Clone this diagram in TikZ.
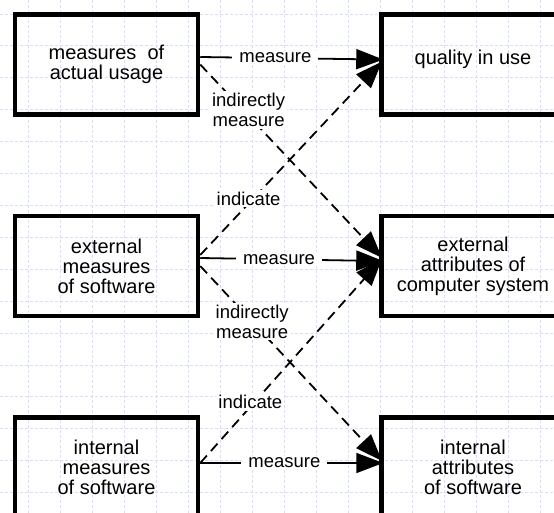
\documentclass[tikz,border=0pt]{standalone}
\usepackage{fontspec}
\setmainfont{Liberation Sans}
\usepackage{xcolor}
\usepackage{tikz}
\usetikzlibrary{arrows.meta, positioning}
\definecolor{gridblue}{RGB}{214,222,248}

\begin{document}
\begin{tikzpicture}[
  x=1pt, y=1pt,
  node distance=97pt and 179pt,
  box/.style={rectangle, draw, line width=4.5pt, minimum width=183pt, minimum height=100pt, font=\fontsize{20}{20}\selectfont, align=center, inner sep=2pt},
  link/.style={line width=1.8pt, -{Triangle[length=27pt, width=20pt]}, shorten >=-4pt},
  dashlink/.style={link, dash pattern=on 10pt off 6pt},
  linklabel/.style={font=\fontsize{18.5}{20}\selectfont, align=center, fill=white, inner xsep=7pt, inner ysep=2pt},
  gridline/.style={gridblue, line width=0.8pt, dash pattern=on 3pt off 2pt}
]
\useasboundingbox (0,0) rectangle (554,-513);
\clip (0,0) rectangle (554,-513);
\foreach \gx in {0,...,16} \draw[gridline] (28.5+32*\gx,0) -- (28.5+32*\gx,-513);
\foreach \gy in {0,...,15} \draw[gridline] (0,-14-31.9*\gy) -- (554,-14-31.9*\gy);

\node[box] (usage) at (106.5,-64.5) {measures\ \ of\\actual usage};
\node[box, below=of usage] (extm) {external\\measures\\of software};
\node[box, below=of extm] (intm) {internal\\measures\\of software};
\node[box, right=of usage] (quality) {quality in use\\[-6pt]};
\node[box, right=of extm] (exta) {external\\attributes of\\computer system};
\node[box, right=of intm] (inta) {internal\\attributes\\of software};

\draw[link] ([yshift=7.5pt]usage.east) -- node[linklabel, pos=0.42] {measure} ([yshift=5pt]quality.west);
\draw[dashlink] (usage.east) -- node[linklabel, pos=0.27, yshift=6pt, inner xsep=2pt] {indirectly\\measure} ([yshift=11pt]exta.west);
\draw[dashlink] ([yshift=11pt]extm.east) -- node[linklabel, pos=0.27, yshift=5pt, inner xsep=2pt] {indicate} (quality.west);
\draw[link] ([yshift=8pt]extm.east) -- node[linklabel, pos=0.44] {measure} ([yshift=5pt]exta.west);
\draw[dashlink] (extm.east) -- node[linklabel, pos=0.29, inner xsep=2pt] {indirectly\\measure} ([yshift=9.5pt]inta.west);
\draw[dashlink] ([yshift=4.5pt]intm.east) -- node[linklabel, pos=0.28, yshift=5pt, inner xsep=2pt] {indicate} ([yshift=4pt]exta.west);
\draw[link] ([yshift=4.5pt]intm.east) -- node[linklabel, pos=0.47] {measure} ([yshift=4.5pt]inta.west);
\end{tikzpicture}
\end{document}
